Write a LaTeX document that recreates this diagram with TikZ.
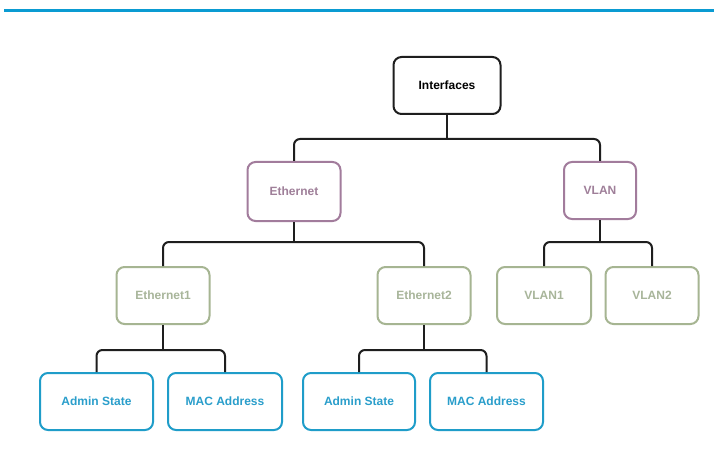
\documentclass[tikz,border=0pt]{standalone}
\usepackage{fontspec}
\setmainfont{Liberation Sans}
\begin{document}
\definecolor{topblue}{HTML}{0A9BD2}
\definecolor{rootline}{HTML}{1E1E1E}
\definecolor{mauve}{HTML}{A27C9C}
\definecolor{mauvetext}{HTML}{9F7F99}
\definecolor{sage}{HTML}{A6B592}
\definecolor{sagetext}{HTML}{A8B59A}
\definecolor{leafblue}{HTML}{1F9DC9}
\definecolor{leaftext}{HTML}{2A9ECB}
\begin{tikzpicture}[x=1pt,y=-1pt,
  box/.style={draw, line width=2pt, rounded corners=8pt, fill=white,
    inner sep=0pt, align=center, font=\fontsize{12}{14}\selectfont\bfseries},
  rootbox/.style={box, draw=rootline, text=black},
  midbox/.style={box, draw=mauve, text=mauvetext},
  subbox/.style={box, draw=sage, text=sagetext},
  leafbox/.style={box, draw=leafblue, text=leaftext},
  conn/.style={draw=rootline, line width=2pt, rounded corners=6pt}]
\useasboundingbox (0,0) rectangle (714,473);
\fill[white] (0,0) rectangle (714,473);
\draw[topblue, line width=3pt] (4,10.5) -- (714,10.5);

% tree nodes
\node[rootbox, minimum width=107, minimum height=57] (interfaces) at (447,85.5) {Interfaces};
\node[midbox, minimum width=93, minimum height=59] (ethernet) at (294,191.5) {Ethernet};
\node[midbox, minimum width=72, minimum height=57] (vlan) at (600,190.5) {VLAN};
\node[subbox, minimum width=93, minimum height=57] (eth1) at (163,295.5) {Ethernet1};
\node[subbox, minimum width=93, minimum height=57] (eth2) at (424,295.5) {Ethernet2};
\node[subbox, minimum width=94, minimum height=57] (vlan1) at (544,295.5) {VLAN1};
\node[subbox, minimum width=93, minimum height=57] (vlan2) at (652,295.5) {VLAN2};
\node[leafbox, minimum width=113, minimum height=57] (admin1) at (96.5,401.5) {Admin State};
\node[leafbox, minimum width=114, minimum height=57] (mac1) at (225,401.5) {MAC Address};
\node[leafbox, minimum width=112, minimum height=57] (admin2) at (359,401.5) {Admin State};
\node[leafbox, minimum width=113, minimum height=57] (mac2) at (486.5,401.5) {MAC Address};

% bus junctions
\coordinate (busroot) at (interfaces.south |- 0,139);
\coordinate (buseth) at (ethernet.south |- 0,242);
\coordinate (busvlan) at (vlan.south |- 0,242);
\coordinate (buseth1) at (eth1.south |- 0,350);
\coordinate (buseth2) at (eth2.south |- 0,350);

% connectors: a stem down from each parent, then a bus across to its children
\draw[conn] (interfaces.south) -- (busroot);
\draw[conn] (ethernet.north) |- (busroot) -| (vlan.north);
\draw[conn] (ethernet.south) -- (buseth);
\draw[conn] (eth1.north) |- (buseth) -| (eth2.north);
\draw[conn] (vlan.south) -- (busvlan);
\draw[conn] (vlan1.north) |- (busvlan) -| (vlan2.north);
\draw[conn] (eth1.south) -- (buseth1);
\draw[conn] (admin1.north) |- (buseth1) -| (mac1.north);
\draw[conn] (eth2.south) -- (buseth2);
\draw[conn] (admin2.north) |- (buseth2) -| (mac2.north);
\end{tikzpicture}
\end{document}
